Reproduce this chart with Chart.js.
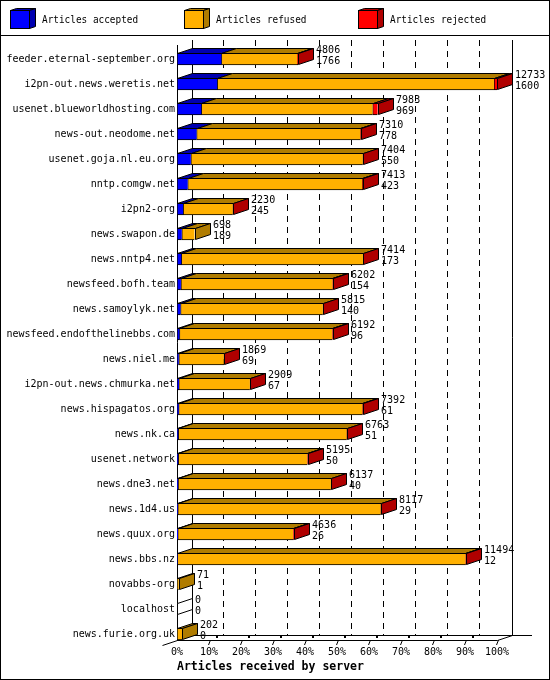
<!DOCTYPE html>
<html><head><meta charset="utf-8">
<script src="https://cdn.jsdelivr.net/npm/chart.js@4.4.1/dist/chart.umd.min.js"></script>
<style>html,body{margin:0;padding:0;background:#fff;}canvas{display:block;}</style>
</head><body>
<canvas id="c" width="550" height="680"></canvas>
<script>
const hosts = [
  'feeder.eternal-september.org','i2pn-out.news.weretis.net','usenet.blueworldhosting.com',
  'news-out.neodome.net','usenet.goja.nl.eu.org','nntp.comgw.net','i2pn2-org','news.swapon.de',
  'news.nntp4.net','newsfeed.bofh.team','news.samoylyk.net','newsfeed.endofthelinebbs.com',
  'news.niel.me','i2pn-out.news.chmurka.net','news.hispagatos.org','news.nk.ca','usenet.network',
  'news.dne3.net','news.1d4.us','news.quux.org','news.bbs.nz','novabbs-org','localhost','news.furie.org.uk'
];
const offered  = [4806,12733,7983,7310,7404,7413,2230,698,7414,6202,5815,6192,1869,2909,7392,6763,5195,6137,8117,4636,11494,71,0,202];
const accepted = [1766,1600,969,778,550,423,245,189,173,154,140,96,69,67,61,51,50,40,29,26,12,1,0,0];
const rejected = [20,120,200,15,15,40,15,0,15,15,15,15,10,10,15,15,15,15,15,15,15,0,0,0];
const seriesLabels = ['Articles accepted','Articles refused','Articles rejected'];
const xTickValues = [0,10,20,30,40,50,60,70,80,90,100];
const xTitle = 'Articles received by server';

const refused = offered.map((o,i)=>Math.max(0,o-accepted[i]-rejected[i]));
const maxOffered = Math.max(...offered);
const pct = v => v/maxOffered*100;

const MONO = "'DejaVu Sans Mono','Liberation Mono',monospace";
const FRONT = ['#0000ff','#ffb000','#ff0000'];
const SIDE  = ['#0000b0','#b07c00','#b00000'];
const DX = 15, DY = 5, BAR_H = 12;

function poly(ctx, pts, fill){
  ctx.beginPath(); ctx.moveTo(pts[0][0],pts[0][1]);
  for(let k=1;k<pts.length;k++) ctx.lineTo(pts[k][0],pts[k][1]);
  ctx.closePath();
  if(fill){ctx.fillStyle=fill;ctx.fill();}
  ctx.strokeStyle='#000';ctx.lineWidth=1;ctx.stroke();
}
function seg(ctx,x1,y1,x2,y2){ctx.beginPath();ctx.moveTo(x1,y1);ctx.lineTo(x2,y2);ctx.stroke();}
function narrowText(ctx,txt,x,y,size,sx){
  ctx.save(); ctx.translate(x,y); ctx.scale(sx,1);
  ctx.font=size+'px '+MONO; ctx.textAlign='left'; ctx.textBaseline='middle'; ctx.fillStyle='#000';
  ctx.fillText(txt,0,0); ctx.restore();
}

const frame3d = {
  id:'frame3d',
  beforeDraw(chart){
    const ctx=chart.ctx; ctx.save(); ctx.fillStyle='#fff'; ctx.fillRect(0,0,chart.width,chart.height); ctx.restore();
  },
  beforeDatasetsDraw(chart){
    const ctx=chart.ctx, xs=chart.scales.x, ys=chart.scales.y, ca=chart.chartArea;
    const n=chart.data.labels.length;
    const x0=Math.round(xs.getPixelForValue(0)), x100=Math.round(xs.getPixelForValue(100));
    const floorY=Math.round(ys.getPixelForValue(n-1)+BAR_H/2);
    const topY=Math.round(ca.top-6.5);
    ctx.save(); ctx.strokeStyle='#000'; ctx.lineWidth=1;
    ctx.setLineDash([6,5]);
    xTickValues.forEach(v=>{ if(v>0&&v<100){ const gx=Math.round(xs.getPixelForValue(v))+DX-1+0.5; seg(ctx,gx,topY,gx,floorY-DY);} });
    ctx.setLineDash([]);
    seg(ctx,x0+DX+0.5,topY,x0+DX+0.5,floorY-DY+0.5);
    seg(ctx,x100+DX+0.5,topY,x100+DX+0.5,floorY-DY+0.5);
    seg(ctx,x0+DX,floorY-DY+0.5,x100+DX+20,floorY-DY+0.5);
    seg(ctx,x0+0.5,topY+DY,x0+0.5,floorY+0.5);
    seg(ctx,x0,floorY+0.5,x100+0.5,floorY+0.5);
    seg(ctx,x100+0.5,floorY+0.5,x100+DX+0.5,floorY-DY+0.5);
    seg(ctx,x0-DX+0.5,floorY+DY+0.5,x0+DX+0.5,floorY-DY+0.5);
    xTickValues.forEach(v=>{ if(v>0){ const tx=Math.round(xs.getPixelForValue(v));
      seg(ctx,tx-0.5,floorY+5,tx+1.5,floorY);
      if(v<100){ ctx.fillStyle='#000'; ctx.fillRect(tx+7,floorY-4,2,2);} } });
    ctx.restore();
  },
  afterDatasetsDraw(chart){
    const ctx=chart.ctx, xs=chart.scales.x;
    const metas=chart.data.datasets.map((d,k)=>chart.getDatasetMeta(k));
    const n=chart.data.labels.length;
    ctx.save();
    for(let i=0;i<n;i++){
      const el0=metas[0].data[i].getProps(['x','y','base'],true);
      const t=Math.round(el0.y-BAR_H/2), b=t+BAR_H;
      let last=-1, endX=Math.round(xs.getPixelForValue(0));
      metas.forEach((m,k)=>{
        const v=chart.data.datasets[k].data[i];
        const e=m.data[i].getProps(['x','base'],true);
        if(v>0){
          const s=Math.round(e.base), f=Math.round(e.x);
          if(f>s) poly(ctx,[[s+0.5,t+0.5],[s+DX+0.5,t-DY+0.5],[f+DX+0.5,t-DY+0.5],[f+0.5,t+0.5]],SIDE[k]);
          last=k; endX=f;
        }
      });
      poly(ctx,[[endX+0.5,t+0.5],[endX+DX+0.5,t-DY+0.5],[endX+DX+0.5,b-DY-0.5],[endX+0.5,b-0.5]], last>=0?SIDE[last]:'#fff');
      const lx=endX+DX+3, cy=el0.y;
      narrowText(ctx,String(offered[i]),lx,cy-9,10.8,0.93);
      narrowText(ctx,String(accepted[i]),lx,cy+2,10.8,0.93);
    }
    ctx.restore();
  },
  afterDraw(chart){
    const ctx=chart.ctx;
    ctx.save();
    chart.data.datasets.forEach((ds,k)=>{
      const bx=10+k*174, by=10, bw=19, bh=18, d=6, e=2;
      poly(ctx,[[bx+0.5,by+0.5],[bx+d+0.5,by-e+0.5],[bx+bw+d+0.5,by-e+0.5],[bx+bw+0.5,by+0.5]],SIDE[k]);
      poly(ctx,[[bx+bw+0.5,by+0.5],[bx+bw+d+0.5,by-e+0.5],[bx+bw+d+0.5,by+bh-e+0.5],[bx+bw+0.5,by+bh+0.5]],SIDE[k]);
      ctx.fillStyle=ds.backgroundColor; ctx.fillRect(bx+0.5,by+0.5,bw,bh); ctx.strokeStyle='#000'; ctx.strokeRect(bx+0.5,by+0.5,bw,bh);
      narrowText(ctx,ds.label,bx+32,by+10,10.8,0.87);
    });
    ctx.strokeStyle='#000'; ctx.lineWidth=1;
    seg(ctx,0,35.5,chart.width,35.5);
    ctx.strokeRect(0.5,0.5,chart.width-1,chart.height-1);
    ctx.restore();
  }
};

const mk=(k,arr)=>({label:seriesLabels[k],data:arr.map(pct),backgroundColor:FRONT[k],borderColor:'#000',
  borderWidth:{top:1,bottom:1,left:1,right:0},borderSkipped:false,barThickness:BAR_H});

new Chart(document.getElementById('c'),{
  type:'bar',
  data:{labels:hosts,datasets:[mk(0,accepted),mk(1,refused),mk(2,rejected)]},
  options:{
    indexAxis:'y',responsive:false,animation:false,devicePixelRatio:1,
    layout:{padding:{left:0,top:46.5,right:53,bottom:0}},
    plugins:{legend:{display:false},tooltip:{enabled:false},title:{display:false}},
    scales:{
      x:{stacked:true,min:0,max:100,grid:{display:false,drawTicks:false},border:{display:false},
        ticks:{stepSize:10,callback:v=>v+'%',font:{family:MONO,size:10},color:'#000',padding:0,maxRotation:0,autoSkip:false},
        title:{display:true,text:xTitle,align:'start',color:'#000',font:{family:MONO,size:11.5,weight:'bold'},padding:{top:0,bottom:6}},
        afterFit(s){s.height=33.5;}},
      y:{stacked:true,grid:{display:false,drawTicks:false},border:{display:false},
        ticks:{font:{family:MONO,size:10},color:'#000',padding:2,autoSkip:false},
        afterFit(s){s.width=177;}}
    }
  },
  plugins:[frame3d]
});
</script>
</body></html>
